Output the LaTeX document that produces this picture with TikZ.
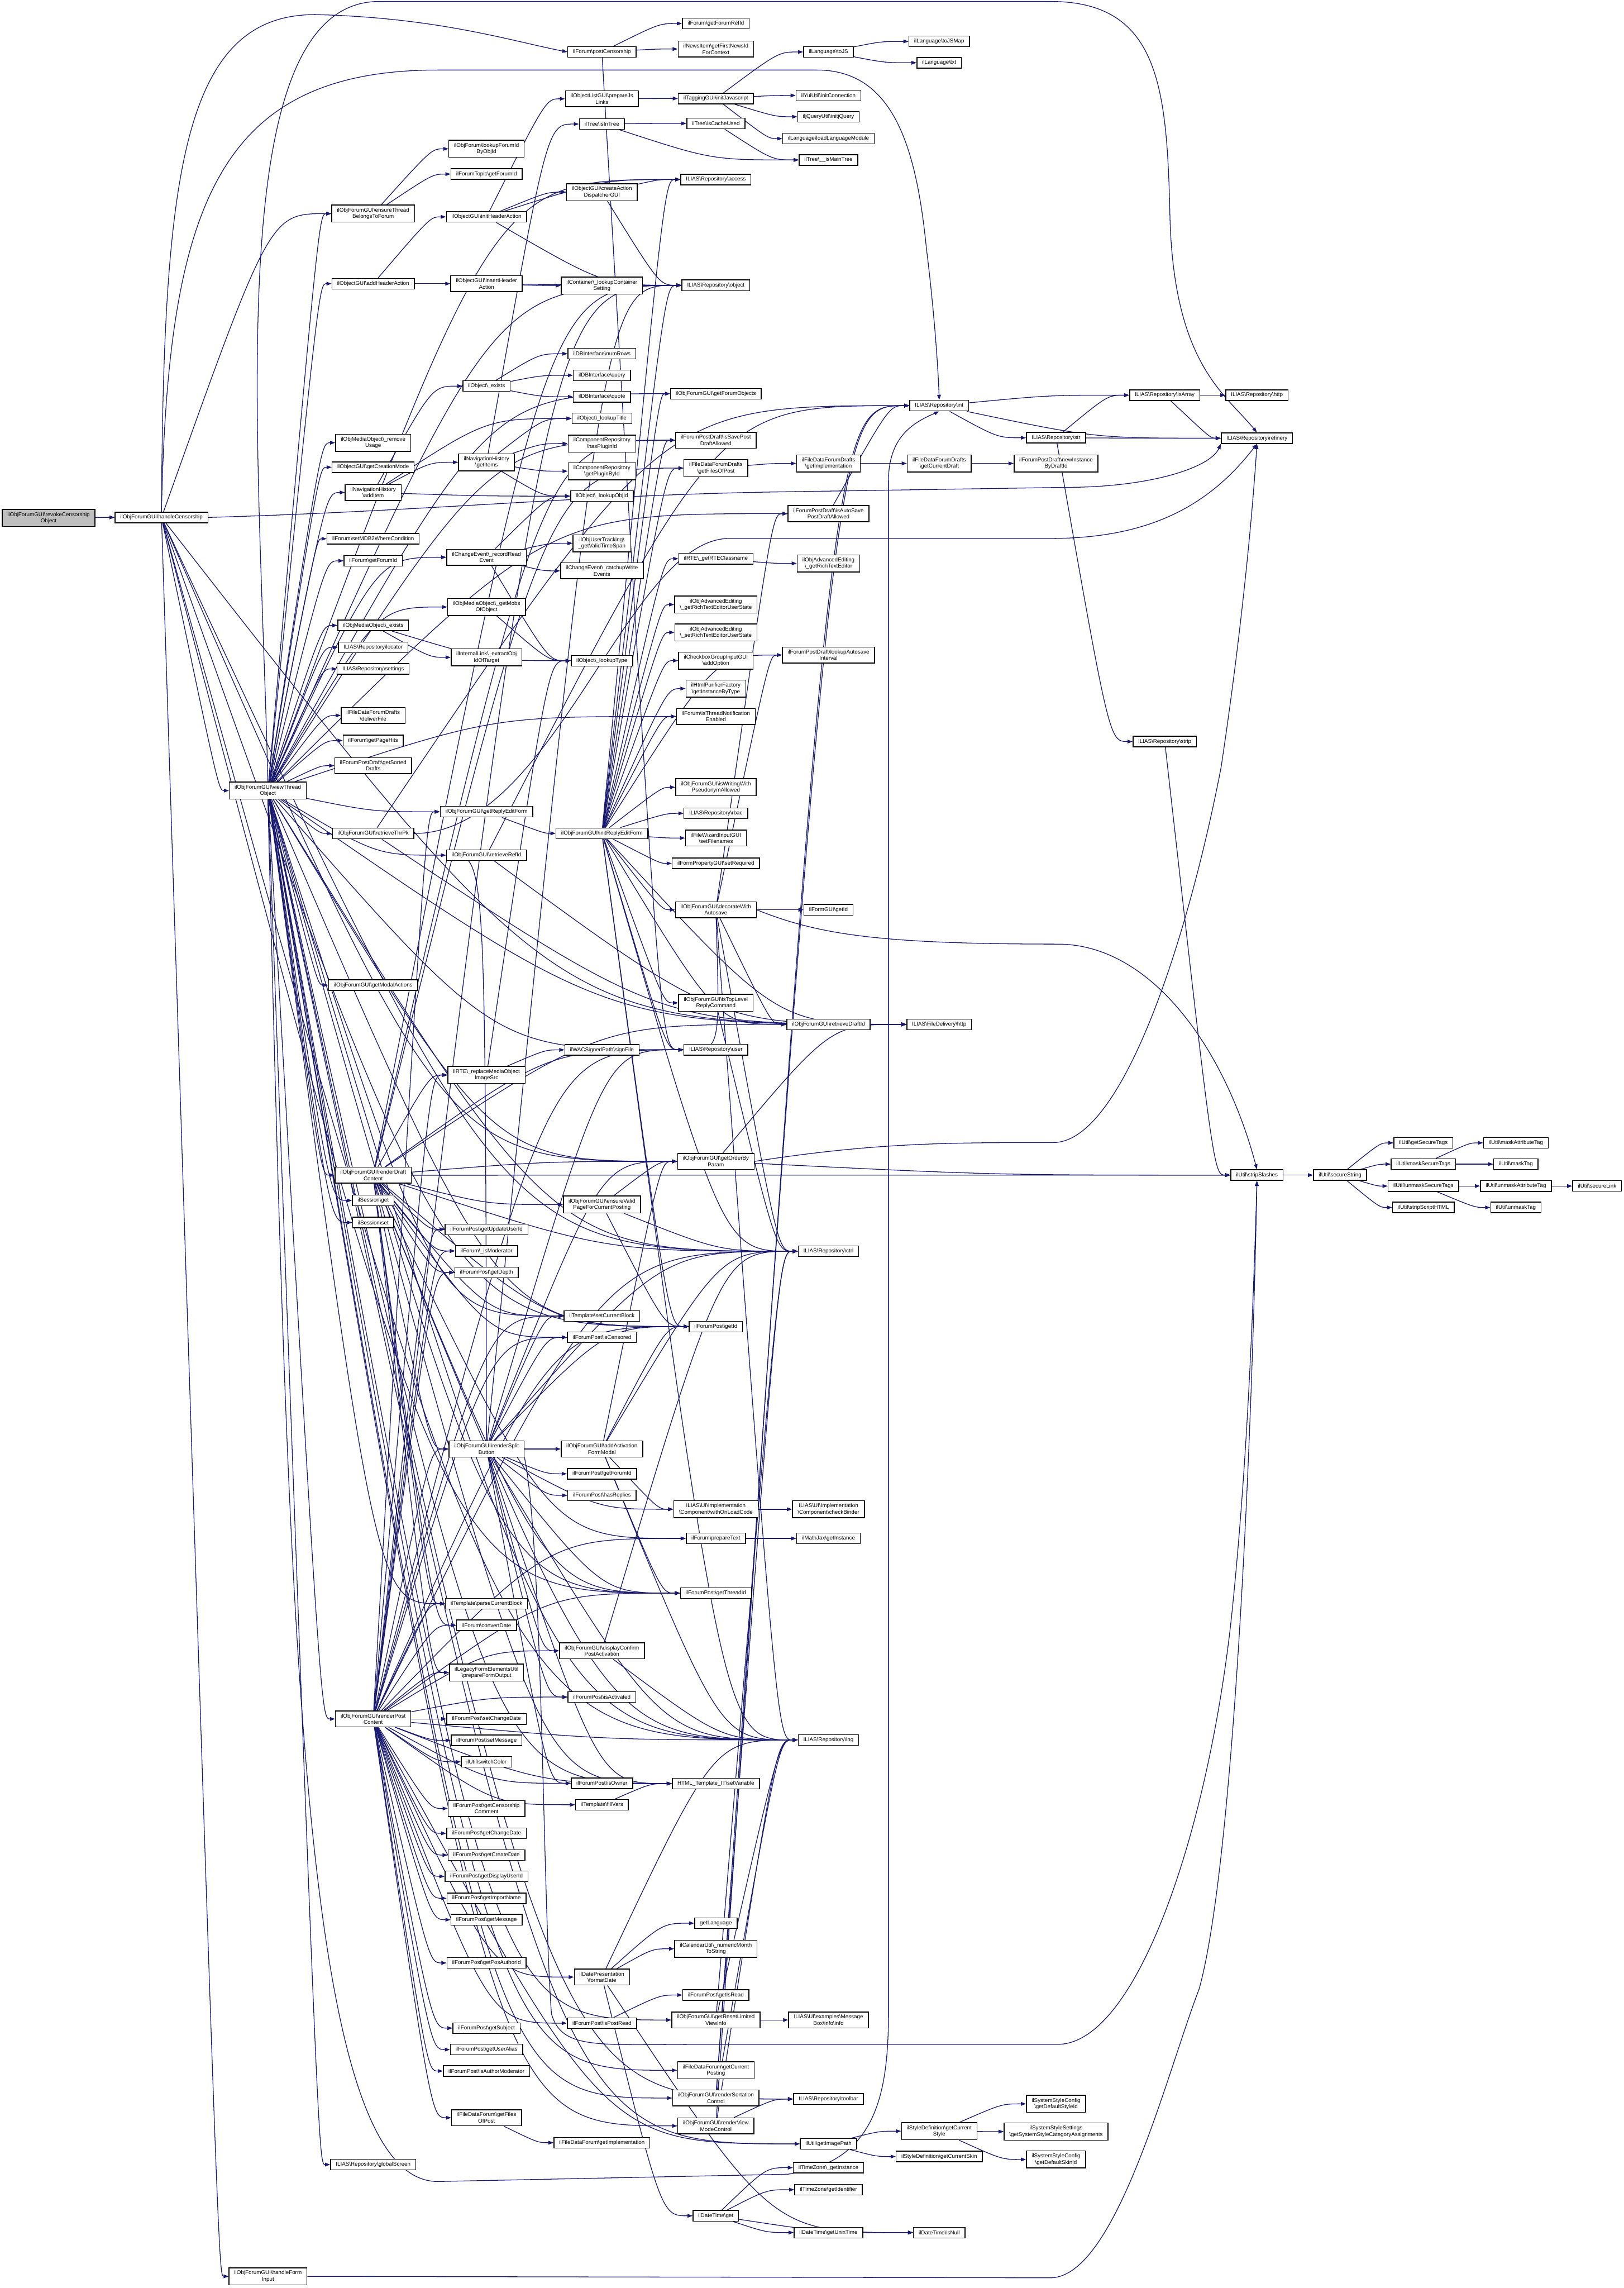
\documentclass[tikz,border=0pt]{standalone}
\usepackage{fontspec}
\setmainfont{Liberation Sans}
\usetikzlibrary{calc,arrows.meta}
\definecolor{edgeNavy}{RGB}{25,25,112}
\definecolor{rootGray}{RGB}{191,191,191}
\newcommand{\bsl}{\textbackslash}
\pgfdeclarelayer{bglayer}
\pgfdeclarelayer{edgelayer}
\pgfsetlayers{bglayer,edgelayer,main}

\begin{document}
\begin{tikzpicture}[x=0.5mm,y=-0.5mm,
  fn/.style={draw=black,fill=white,line width=0.8pt,inner xsep=5.1pt,inner ysep=2.7pt,
    minimum height=10.35pt,align=center,font=\fontsize{5.35}{6.24}\selectfont},
  rootfn/.style={fn,fill=rootGray},
  call/.style={draw=edgeNavy,line width=0.7pt,-{Triangle[length=5pt,width=3.6pt]}}]
\begin{pgfonlayer}{bglayer}
\fill[white] (0,0) rectangle (1113,1568);
\end{pgfonlayer}
\useasboundingbox (0,0) rectangle (1113,1568);

\node[rootfn] (rvk) at (33.3,355) {ilObjForumGUI\bsl revokeCensorship\\Object};
\node[fn] (hcs) at (110.7,354.6) {ilObjForumGUI\bsl handleCensorship};
\node[fn] (vto) at (183.6,541.8) {ilObjForumGUI\bsl viewThread\\Object};
\node[fn] (hfi) at (183.7,1560) {ilObjForumGUI\bsl handleForm\\Input};

\node[fn] (eth) at (255.8,146.4) {ilObjForumGUI\bsl ensureThread\\BelongsToForum};
\node[fn] (aha) at (255.8,194.4) {ilObjectGUI\bsl addHeaderAction};
\node[fn] (rmu) at (255.8,303.4) {ilObjMediaObject\bsl\_remove\\Usage};
\node[fn] (gcm) at (255.8,320.2) {ilObjectGUI\bsl getCreationMode};
\node[fn] (adi) at (255.8,337.5) {ilNavigationHistory\\\bsl addItem};
\node[fn] (mdb) at (255.8,369.2) {ilForum\bsl setMDB2WhereCondition};
\node[fn] (fgi) at (255.8,384.3) {ilForum\bsl getForumId};
\node[fn] (mex) at (255.8,428.6) {ilObjMediaObject\bsl\_exists};
\node[fn] (loc) at (255.8,443.6) {ILIAS\bsl Repository\bsl locator};
\node[fn] (rset) at (255.8,458.4) {ILIAS\bsl Repository\bsl settings};
\node[fn] (dfl) at (255.8,490.3) {ilFileDataForumDrafts\\\bsl deliverFile};
\node[fn] (gph) at (255.8,507.5) {ilForum\bsl getPageHits};
\node[fn] (gsd) at (255.8,524.7) {ilForumPostDraft\bsl getSorted\\Drafts};
\node[fn] (rtp) at (255.8,571.2) {ilObjForumGUI\bsl retrieveThrPk};
\node[fn] (gma) at (255.8,675.1) {ilObjForumGUI\bsl getModalActions};
\node[fn] (rdc) at (255.8,805.4) {ilObjForumGUI\bsl renderDraft\\Content};
\node[fn] (sget) at (255.8,822.7) {ilSession\bsl get};
\node[fn] (sset) at (255.8,837.8) {ilSession\bsl set};
\node[fn] (rpc) at (255.8,1178) {ilObjForumGUI\bsl renderPost\\Content};
\node[fn] (gls) at (255.8,1483.4) {ILIAS\bsl Repository\bsl globalScreen};

\node[fn] (lfi) at (333.5,102) {ilObjForum\bsl lookupForumId\\ByObjId};
\node[fn] (tfi) at (333.5,119.3) {ilForumTopic\bsl getForumId};
\node[fn] (iha) at (333.5,148.6) {ilObjectGUI\bsl initHeaderAction};
\node[fn] (ihd) at (333.5,194.4) {ilObjectGUI\bsl insertHeader\\Action};
\node[fn] (oex) at (333.5,264.6) {ilObject\bsl\_exists};
\node[fn] (gitm) at (333.5,316.8) {ilNavigationHistory\\\bsl getItems};
\node[fn] (rre) at (333.5,381.9) {ilChangeEvent\bsl\_recordRead\\Event};
\node[fn] (gmo) at (333.5,416) {ilObjMediaObject\bsl\_getMobs\\OfObject};
\node[fn] (eoi) at (333.5,450.5) {ilInternalLink\bsl\_extractObj\\IdOfTarget};
\node[fn] (gref) at (333.5,556.3) {ilObjForumGUI\bsl getReplyEditForm};
\node[fn] (rri) at (333.5,586.1) {ilObjForumGUI\bsl retrieveRefId};
\node[fn] (rmo) at (333.5,736.7) {ilRTE\bsl\_replaceMediaObject\\ImageSrc};
\node[fn] (guu) at (333.5,842.5) {ilForumPost\bsl getUpdateUserId};
\node[fn] (ism) at (333.5,857.3) {ilForum\bsl\_isModerator};
\node[fn] (gdp) at (333.5,872.1) {ilForumPost\bsl getDepth};
\node[fn] (rsb) at (333.5,993) {ilObjForumGUI\bsl renderSplit\\Button};
\node[fn] (pcb) at (333.5,1099) {ilTemplate\bsl parseCurrentBlock};
\node[fn] (cdt) at (333.5,1113.8) {ilForum\bsl convertDate};
\node[fn] (pfo) at (333.5,1146.2) {ilLegacyFormElementsUtil\\\bsl prepareFormOutput};
\node[fn] (scd) at (333.5,1178) {ilForumPost\bsl setChangeDate};
\node[fn] (smsg) at (333.5,1192.7) {ilForumPost\bsl setMessage};
\node[fn] (swc) at (333.5,1207.4) {ilUtil\bsl switchColor};
\node[fn] (gcc) at (333.5,1239.4) {ilForumPost\bsl getCensorship\\Comment};
\node[fn] (gchd) at (333.5,1256.4) {ilForumPost\bsl getChangeDate};
\node[fn] (gcrd) at (333.5,1271.3) {ilForumPost\bsl getCreateDate};
\node[fn] (gdu) at (333.5,1285.9) {ilForumPost\bsl getDisplayUserId};
\node[fn] (gin) at (333.5,1300.9) {ilForumPost\bsl getImportName};
\node[fn] (gmsg) at (333.5,1315.6) {ilForumPost\bsl getMessage};
\node[fn] (gpa) at (333.5,1345.2) {ilForumPost\bsl getPosAuthorId};
\node[fn] (gsub) at (333.5,1389.9) {ilForumPost\bsl getSubject};
\node[fn] (gua) at (333.5,1404.6) {ilForumPost\bsl getUserAlias};
\node[fn] (iam) at (333.5,1419.3) {ilForumPost\bsl isAuthorModerator};
\node[fn] (gfp) at (333.5,1451.3) {ilFileDataForum\bsl getFiles\\OfPost};

\node[fn] (pcs) at (412.6,35.6) {ilForum\bsl postCensorship};
\node[fn] (pjl) at (412.6,67.7) {ilObjectListGUI\bsl prepareJs\\Links};
\node[fn] (iit) at (412.6,85) {ilTree\bsl isInTree};
\node[fn] (cad) at (412.6,131.7) {ilObjectGUI\bsl createAction\\DispatcherGUI};
\node[fn] (lcs) at (412.6,195.7) {ilContainer\bsl\_lookupContainer\\Setting};
\node[fn] (nrw) at (412.6,242.4) {ilDBInterface\bsl numRows};
\node[fn] (qry) at (412.6,257.2) {ilDBInterface\bsl query};
\node[fn] (quo) at (412.6,271.9) {ilDBInterface\bsl quote};
\node[fn] (ltt) at (412.6,286.8) {ilObject\bsl\_lookupTitle};
\node[fn] (hpi) at (412.6,304) {ilComponentRepository\\\bsl hasPluginId};
\node[fn] (gpi) at (412.6,322.9) {ilComponentRepository\\\bsl getPluginById};
\node[fn] (loi) at (412.6,340) {ilObject\bsl\_lookupObjId};
\node[fn] (gvt) at (412.6,372.3) {ilObjUserTracking\bsl\\\_getValidTimeSpan};
\node[fn] (cwe) at (412.6,391.2) {ilChangeEvent\bsl\_catchupWrite\\Events};
\node[fn] (ltp) at (412.6,452.8) {ilObject\bsl\_lookupType};
\node[fn] (iref) at (412.6,571.1) {ilObjForumGUI\bsl initReplyEditForm};
\node[fn] (sgf) at (412.6,719.5) {ilWACSignedPath\bsl signFile};
\node[fn] (evp) at (412.6,825.5) {ilObjForumGUI\bsl ensureValid\\PageForCurrentPosting};
\node[fn] (scb) at (412.6,901.9) {ilTemplate\bsl setCurrentBlock};
\node[fn] (icn) at (412.6,916.5) {ilForumPost\bsl isCensored};
\node[fn] (aafm) at (412.6,993) {ilObjForumGUI\bsl addActivation\\FormModal};
\node[fn] (pfid) at (412.6,1010) {ilForumPost\bsl getForumId};
\node[fn] (hrp) at (412.6,1024.8) {ilForumPost\bsl hasReplies};
\node[fn] (dcpa) at (412.6,1131.3) {ilObjForumGUI\bsl displayConfirm\\PostActivation};
\node[fn] (iact) at (412.6,1163) {ilForumPost\bsl isActivated};
\node[fn] (iown) at (412.6,1222.1) {ilForumPost\bsl isOwner};
\node[fn] (fvr) at (412.6,1236.8) {ilTemplate\bsl fillVars};
\node[fn] (fdt) at (412.6,1354.9) {ilDatePresentation\\\bsl formatDate};
\node[fn] (ipr) at (412.6,1386.5) {ilForumPost\bsl isPostRead};
\node[fn] (fdfi) at (412.6,1468.4) {ilFileDataForum\bsl getImplementation};

\node[fn] (gfr) at (490.7,16.1) {ilForum\bsl getForumRefId};
\node[fn] (gfn) at (490.7,33.6) {ilNewsItem\bsl getFirstNewsId\\ForContext};
\node[fn] (ijs) at (490.7,67.5) {ilTaggingGUI\bsl initJavascript};
\node[fn] (icu) at (490.7,84.6) {ilTree\bsl isCacheUsed};
\node[fn] (acc) at (490.7,123) {ILIAS\bsl Repository\bsl access};
\node[fn] (obj) at (490.7,195.5) {ILIAS\bsl Repository\bsl object};
\node[fn] (gfo) at (490.7,269.8) {ilObjForumGUI\bsl getForumObjects};
\node[fn] (ispd) at (490.7,301.7) {ilForumPostDraft\bsl isSavePost\\DraftAllowed};
\node[fn] (gfpd) at (490.7,320.8) {ilFileDataForumDrafts\\\bsl getFilesOfPost};
\node[fn] (grc) at (490.7,382.9) {ilRTE\bsl\_getRTEClassname};
\node[fn] (grus) at (490.7,414.3) {ilObjAdvancedEditing\\\bsl\_getRichTextEditorUserState};
\node[fn] (srus) at (490.7,433.4) {ilObjAdvancedEditing\\\bsl\_setRichTextEditorUserState};
\node[fn] (aop) at (490.7,452.7) {ilCheckboxGroupInputGUI\\\bsl addOption};
\node[fn] (gibt) at (490.7,471.9) {ilHtmlPurifierFactory\\\bsl getInstanceByType};
\node[fn] (itn) at (490.7,491) {ilForum\bsl isThreadNotification\\Enabled};
\node[fn] (iwp) at (490.7,539.5) {ilObjForumGUI\bsl isWritingWith\\PseudonymAllowed};
\node[fn] (rbac) at (490.7,557.4) {ILIAS\bsl Repository\bsl rbac};
\node[fn] (sfn) at (490.7,574.3) {ilFileWizardInputGUI\\\bsl setFilenames};
\node[fn] (sreq) at (490.7,591.7) {ilFormPropertyGUI\bsl setRequired};
\node[fn] (dwa) at (490.7,623.5) {ilObjForumGUI\bsl decorateWith\\Autosave};
\node[fn] (itl) at (490.7,687.3) {ilObjForumGUI\bsl isTopLevel\\ReplyCommand};
\node[fn] (usr) at (490.7,719.4) {ILIAS\bsl Repository\bsl user};
\node[fn] (gob) at (490.7,795.9) {ilObjForumGUI\bsl getOrderBy\\Param};
\node[fn] (pgid) at (490.7,909.1) {ilForumPost\bsl getId};
\node[fn] (wol) at (490.7,1034.3) {ILIAS\bsl UI\bsl Implementation\\\bsl Component\bsl withOnLoadCode};
\node[fn] (ptx) at (490.7,1054.3) {ilForum\bsl prepareText};
\node[fn] (pgtid) at (490.7,1091.8) {ilForumPost\bsl getThreadId};
\node[fn] (stv) at (490.7,1222.3) {HTML\_Template\_IT\bsl setVariable};
\node[fn] (glang) at (490.7,1318) {getLanguage};
\node[fn] (nmts) at (490.7,1335.5) {ilCalendarUtil\bsl\_numericMonth\\ToString};
\node[fn] (gir) at (490.7,1367.2) {ilForumPost\bsl getIsRead};
\node[fn] (grl) at (490.7,1384.3) {ilObjForumGUI\bsl getResetLimited\\ViewInfo};
\node[fn] (gcp) at (490.7,1418.8) {ilFileDataForum\bsl getCurrent\\Posting};
\node[fn] (rsc) at (490.7,1437.8) {ilObjForumGUI\bsl renderSortation\\Control};
\node[fn] (rvm) at (490.7,1456.9) {ilObjForumGUI\bsl renderView\\ModeControl};
\node[fn] (dtg) at (490.7,1518.5) {ilDateTime\bsl get};

\node[fn] (tjs) at (567.9,35.6) {ilLanguage\bsl toJS};
\node[fn] (yui) at (567.9,65.4) {ilYuiUtil\bsl initConnection};
\node[fn] (jq) at (567.9,80) {iljQueryUtil\bsl initjQuery};
\node[fn] (llm) at (567.9,95) {ilLanguage\bsl loadLanguageModule};
\node[fn] (imt) at (567.9,109.6) {ilTree\bsl\_\_isMainTree};
\node[fn] (gimd) at (567.9,317.6) {ilFileDataForumDrafts\\\bsl getImplementation};
\node[fn] (iasd) at (567.9,352) {ilForumPostDraft\bsl isAutoSave\\PostDraftAllowed};
\node[fn] (grte) at (567.9,386.1) {ilObjAdvancedEditing\\\bsl\_getRichTextEditor};
\node[fn] (lai) at (567.9,448.9) {ilForumPostDraft\bsl lookupAutosave\\Interval};
\node[fn] (fgid) at (567.9,623.5) {ilFormGUI\bsl getId};
\node[fn] (rdi) at (567.9,702) {ilObjForumGUI\bsl retrieveDraftId};
\node[fn] (ctrl) at (567.9,857.5) {ILIAS\bsl Repository\bsl ctrl};
\node[fn] (cbd) at (567.9,1034.3) {ILIAS\bsl UI\bsl Implementation\\\bsl Component\bsl checkBinder};
\node[fn] (mjx) at (567.9,1054.3) {ilMathJax\bsl getInstance};
\node[fn] (lng) at (567.9,1192.4) {ILIAS\bsl Repository\bsl lng};
\node[fn] (mbi) at (567.9,1384.3) {ILIAS\bsl UI\bsl examples\bsl Message\\Box\bsl info\bsl info};
\node[fn] (tbar) at (567.9,1438.5) {ILIAS\bsl Repository\bsl toolbar};
\node[fn] (gip) at (567.9,1469.2) {ilUtil\bsl getImagePath};
\node[fn] (tzi) at (567.9,1485.5) {ilTimeZone\bsl\_getInstance};
\node[fn] (tzid) at (567.9,1500.6) {ilTimeZone\bsl getIdentifier};
\node[fn] (gut) at (567.9,1530) {ilDateTime\bsl getUnixTime};

\node[fn] (tjm) at (643.8,28.4) {ilLanguage\bsl toJSMap};
\node[fn] (txt) at (643.8,43) {ilLanguage\bsl txt};
\node[fn] (int) at (643.8,278) {ILIAS\bsl Repository\bsl int};
\node[fn] (gcd) at (643.8,317.6) {ilFileDataForumDrafts\\\bsl getCurrentDraft};
\node[fn] (fdh) at (643.8,702) {ILIAS\bsl FileDelivery\bsl http};
\node[fn] (gcs) at (643.8,1460.5) {ilStyleDefinition\bsl getCurrent\\Style};
\node[fn] (gsk) at (643.8,1477.9) {ilStyleDefinition\bsl getCurrentSkin};
\node[fn] (isn) at (643.8,1530) {ilDateTime\bsl isNull};

\node[fn] (str) at (723.9,300) {ILIAS\bsl Repository\bsl str};
\node[fn] (nid) at (723.9,317.6) {ilForumPostDraft\bsl newInstance\\ByDraftId};
\node[fn] (gdsi) at (723.9,1441.8) {ilSystemStyleConfig\\\bsl getDefaultStyleId};
\node[fn] (gssca) at (723.9,1460.8) {ilSystemStyleSettings\\\bsl getSystemStyleCategoryAssignments};
\node[fn] (gdsk) at (723.9,1479.9) {ilSystemStyleConfig\\\bsl getDefaultSkinId};

\node[fn] (isa) at (798.4,270.8) {ILIAS\bsl Repository\bsl isArray};
\node[fn] (stp) at (798.4,508.2) {ILIAS\bsl Repository\bsl strip};
\node[fn] (rhttp) at (861.6,270.8) {ILIAS\bsl Repository\bsl http};
\node[fn] (ref) at (861.6,300.3) {ILIAS\bsl Repository\bsl refinery};
\node[fn] (sts) at (861.6,805.3) {ilUtil\bsl stripSlashes};
\node[fn] (sst) at (918.6,805.3) {ilUtil\bsl secureString};
\node[fn] (gst) at (975.7,783.2) {ilUtil\bsl getSecureTags};
\node[fn] (mst) at (975.7,797.8) {ilUtil\bsl maskSecureTags};
\node[fn] (ust) at (975.7,812.8) {ilUtil\bsl unmaskSecureTags};
\node[fn] (ssh) at (975.7,827.5) {ilUtil\bsl stripScriptHTML};
\node[fn] (mat) at (1039.1,783.2) {ilUtil\bsl maskAttributeTag};
\node[fn] (mtg) at (1039.1,797.8) {ilUtil\bsl maskTag};
\node[fn] (uat) at (1039.1,812.8) {ilUtil\bsl unmaskAttributeTag};
\node[fn] (utg) at (1039.1,827.5) {ilUtil\bsl unmaskTag};
\node[fn] (slk) at (1094.8,812.8) {ilUtil\bsl secureLink};

\begin{pgfonlayer}{edgelayer}
\foreach \cfrom/\cto in {rvk/hcs,
  hcs/eth,hcs/vto,hcs/hfi,hcs/gob,hcs/ctrl,hcs/lng,hcs/pgid,hcs/pgtid,hcs/fdh,
  vto/eth,vto/aha,vto/rmu,vto/gcm,vto/adi,vto/mdb,vto/fgi,vto/mex,vto/loc,vto/rset,vto/dfl,vto/gph,
  vto/gsd,vto/rtp,vto/gma,vto/rdc,vto/sget,vto/sset,vto/rpc,vto/gls,vto/rre,vto/gmo,vto/gref,vto/rri,
  vto/pcb,vto/scb,vto/stv,vto/acc,vto/obj,vto/gfo,vto/ispd,vto/itn,vto/usr,vto/ctrl,vto/lng,vto/gob,
  vto/pgid,vto/pgtid,vto/grl,vto/gcp,vto/rsc,vto/rvm,vto/tbar,vto/fdh,vto/iasd,vto/gip,
  eth/lfi,eth/tfi,aha/iha,aha/ihd,
  iha/pjl,iha/cad,iha/acc,iha/obj,cad/acc,cad/obj,ihd/lcs,ihd/obj,
  adi/oex,adi/gitm,adi/loi,adi/ltt,oex/nrw,oex/qry,oex/quo,
  gitm/hpi,gitm/gpi,gitm/loi,gitm/ltt,gitm/iit,iit/icu,iit/imt,icu/imt,
  pjl/ijs,ijs/tjs,ijs/yui,ijs/jq,ijs/llm,tjs/tjm,tjs/txt,
  pcs/gfr,pcs/gfn,pcs/usr,rre/gvt,rre/cwe,rre/loi,rre/ltp,
  gmo/ltp,mex/eoi,mex/ltp,rmo/sgf,rmo/ltp,gref/iref,
  iref/grc,iref/grus,iref/srus,iref/aop,iref/gibt,iref/itn,iref/iwp,iref/rbac,iref/sfn,iref/sreq,
  iref/dwa,iref/itl,iref/usr,iref/ctrl,iref/lng,iref/ispd,iref/gfpd,iref/gfo,iref/acc,iref/obj,
  iref/rdi,iref/fdh,iref/pgid,iref/lai,
  rri/fdh,rri/int,rtp/fdh,rtp/int,rdi/fdh,
  dwa/fgid,dwa/iasd,dwa/lai,dwa/ctrl,dwa/lng,dwa/usr,dwa/rdi,itl/ctrl,
  gob/fdh,gob/sts,evp/gob,evp/ctrl,evp/pgid,
  rdc/rsb,rdc/guu,rdc/ism,rdc/gdp,rdc/scb,rdc/icn,rdc/pcb,rdc/cdt,rdc/evp,rdc/rmo,rdc/rdi,rdc/ispd,
  rdc/gfpd,rdc/stv,rdc/ctrl,rdc/lng,rdc/usr,rdc/pgid,rdc/pgtid,rdc/gob,rdc/ptx,rdc/pfo,rdc/obj,rdc/sts,
  rpc/rsb,rpc/guu,rpc/ism,rpc/gdp,rpc/pcb,rpc/cdt,rpc/pfo,rpc/scd,rpc/smsg,rpc/swc,rpc/gcc,rpc/gchd,
  rpc/gcrd,rpc/gdu,rpc/gin,rpc/gmsg,rpc/gpa,rpc/gsub,rpc/gua,rpc/iam,rpc/gfp,rpc/iact,rpc/iown,
  rpc/fvr,rpc/fdt,rpc/ipr,rpc/gref,rpc/rmo,rpc/stv,rpc/ptx,rpc/pgid,rpc/pgtid,rpc/lng,rpc/usr,
  rpc/ctrl,rpc/gip,rpc/icn,rpc/scb,rpc/dcpa,rpc/obj,
  rsb/aafm,rsb/pfid,rsb/hrp,rsb/icn,rsb/scb,rsb/dcpa,rsb/iact,rsb/iown,rsb/pgid,rsb/pgtid,rsb/lng,
  rsb/ctrl,rsb/usr,rsb/gob,rsb/wol,rsb/rri,rsb/stv,rsb/obj,
  aafm/wol,aafm/lng,aafm/ctrl,aafm/pgid,aafm/pgtid,aafm/gob,wol/cbd,dcpa/lng,dcpa/ctrl,
  fdt/glang,fdt/nmts,fdt/dtg,fdt/isn,fdt/lng,dtg/tzi,dtg/tzid,dtg/gut,dtg/isn,gut/isn,
  gfp/fdfi,gfpd/gimd,gimd/gcd,gcd/nid,grc/grte,grl/mbi,grl/lng,grl/ctrl,
  rsc/tbar,rsc/lng,rsc/ctrl,rsc/int,rvm/tbar,rvm/lng,rvm/int,ptx/mjx,
  gip/gcs,gip/gsk,gcs/gdsi,gcs/gssca,gcs/gdsk,
  int/isa,int/ref,int/str,str/isa,str/ref,str/stp,isa/rhttp,isa/ref,stp/sts,sts/sst,
  sst/gst,sst/mst,sst/ust,sst/ssh,mst/mat,mst/mtg,ust/uat,ust/utg,uat/slk,
  fvr/stv,iasd/int,ipr/gir}
  \draw[call] let \p1=(\cfrom.east), \p2=(\cto.west) in
    (\cfrom) .. controls ({0.5*\x1+0.5*\x2},\y2) .. (\p2);

\draw[call] (hcs.north) .. controls (112,120) and (125,10) .. (216,10)
  .. controls (300,12) and (350,28) .. (pcs.west);
\draw[call] (vto.north) .. controls (178,300) and (150,1) .. (260,1) -- (720,1)
  .. controls (795,1) and (800,60) .. (802,150) .. controls (805,250) and (840,270) .. (ref.north);
\draw[call] (hcs.north) .. controls (115,140) and (150,48) .. (300,48) -- (560,48)
  .. controls (612,48) and (628,100) .. (635,170) .. controls (640,210) and (643,250) .. (int.north);
\draw[call] (vto.south) .. controls (198,1100) and (205,1495) .. (300,1495) -- (540,1490)
  .. controls (598,1482) and (609,1440) .. (609,1380) -- (609,330)
  .. controls (609,300) and (625,290) .. (int.south);
\draw[call] (hfi.east) -- (720,1561) .. controls (765,1561) and (800,1420) .. (822,1363)
  .. controls (845,1280) and (858,1000) .. (sts.south);
\draw[call] (rsb.south east) .. controls (372,1060) and (372,1300) .. (378,1380)
  .. controls (385,1405) and (410,1401) .. (480,1401) -- (725,1401)
  .. controls (780,1401) and (830,1250) .. (845,1100) .. controls (855,1000) and (859,900) .. (sts.south);
\draw[call] (gob.east) .. controls (600,783) and (650,783) .. (722,783)
  .. controls (770,783) and (815,640) .. (837,526) .. controls (850,440) and (858,360) .. (ref.south);
\draw[call] (dwa.east) .. controls (560,640) and (600,647) .. (725,647)
  .. controls (790,647) and (840,720) .. (sts.north);
\draw[call] (hcs.east) .. controls (300,350) and (400,339) .. (540,337) -- (730,334)
  .. controls (790,334) and (830,320) .. (ref.south west);
\draw[call] (rtp.east) .. controls (380,571) and (430,369) .. (500,369) -- (720,369)
  .. controls (790,369) and (830,345) .. (ref.south);
\end{pgfonlayer}
\end{tikzpicture}
\end{document}
